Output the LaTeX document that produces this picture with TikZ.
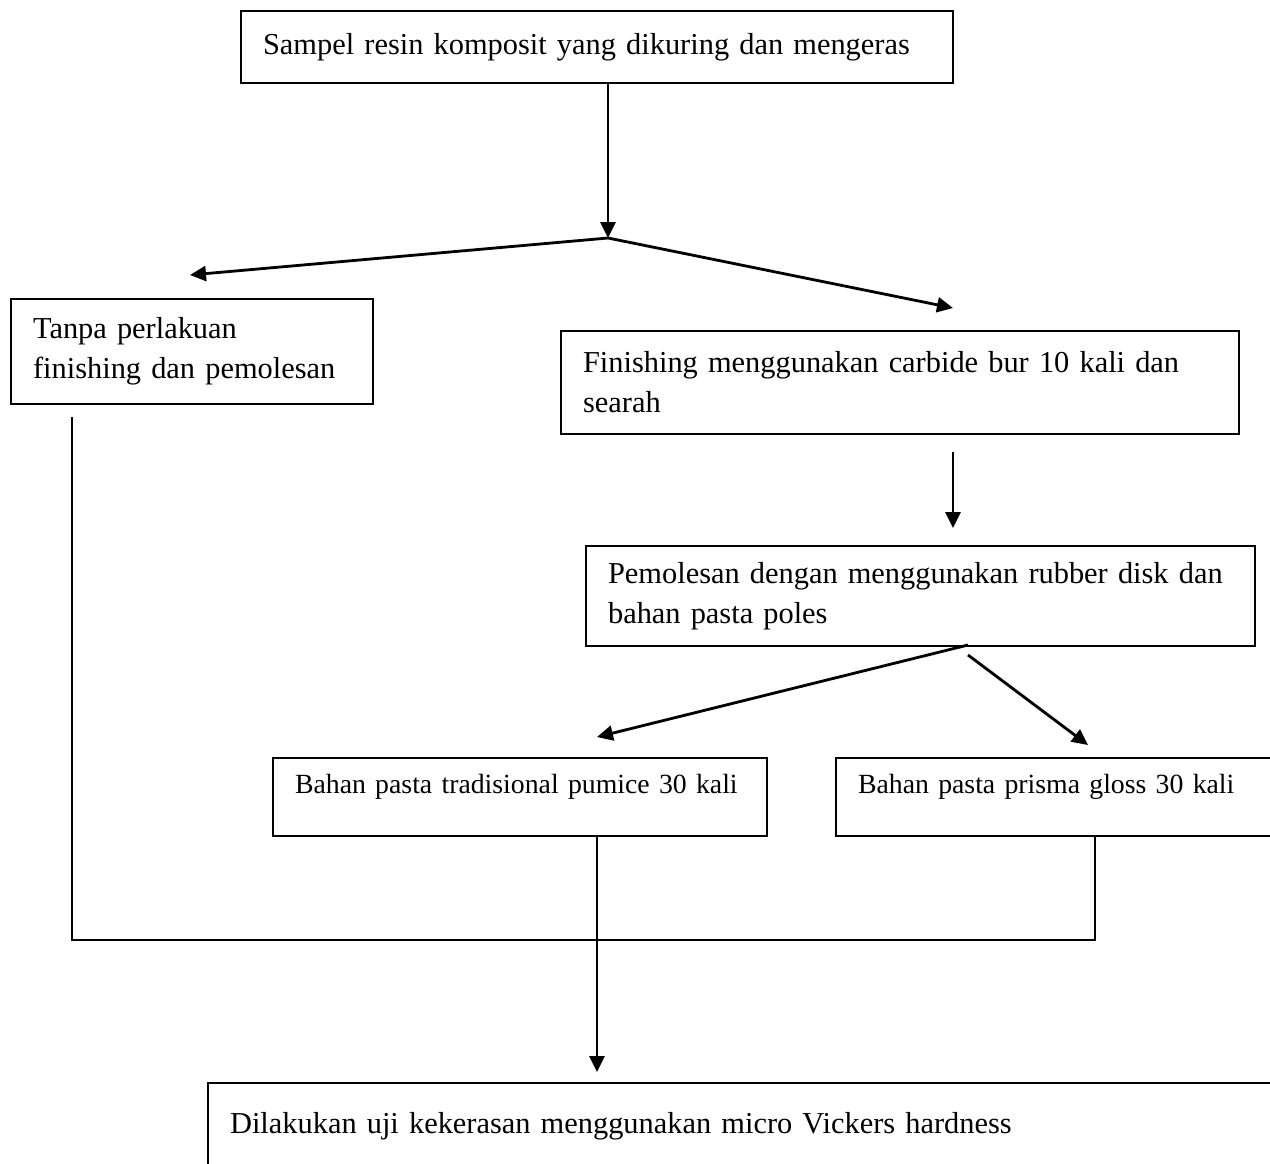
\documentclass[tikz,border=0pt]{standalone}
\usepackage{fontspec}
\setmainfont{Liberation Serif}
\usetikzlibrary{arrows.meta}

\begin{document}
\begin{tikzpicture}[
            x=0.2mm, y=-0.2mm,
            box/.style={draw, line width=1.2pt, anchor=north west, align=left,
                inner xsep=0.44cm, inner ysep=0pt, font=\fontsize{17.3}{22.8}\selectfont},
            smallbox/.style={box, font=\fontsize{15.8}{21}\selectfont, text depth=0.52cm},
            line/.style={draw, line width=1.6pt},
            arr/.style={line, -{Triangle[length=0.32cm, width=0.3cm]}}
        ]
        \useasboundingbox (0,0) rectangle (1270,1163);
        \clip (0,0) rectangle (1270,1163);
        \node[box, text width=13.36cm, minimum height=1.44cm] (samp) at (240,10)
            {\mbox{Sampel resin komposit yang dikuring dan mengeras}};
        \node[box, text width=6.36cm, minimum height=2.1cm] (tanpa) at (10,298)
            {Tanpa perlakuan\\\mbox{finishing dan pemolesan}};
        \node[box, text width=12.68cm, minimum height=2.06cm] (fin) at (560,330)
            {\mbox{Finishing menggunakan carbide bur 10 kali dan}\\searah};
        \node[box, text width=12.5cm, minimum height=2cm] (poles) at (585,545)
            {\mbox{Pemolesan dengan menggunakan rubber disk dan}\\bahan pasta poles};
        \node[smallbox, text width=9cm, minimum height=1.56cm] (pum) at (272,757)
            {\mbox{Bahan pasta tradisional pumice 30 kali}};
        \node[smallbox, text width=9cm, minimum height=1.56cm] (gloss) at (835,757)
            {\mbox{Bahan pasta prisma gloss 30 kali}};
        \node[box, text width=22cm, text height=0.45cm, text depth=3cm, inner ysep=0.55cm] (uji) at (207,1082)
            {\mbox{Dilakukan uji kekerasan menggunakan micro Vickers hardness}};

        \coordinate (split)    at (608,238);
        \coordinate (tanpaTip) at (190,275);
        \coordinate (finTip)   at (953,308);
        \coordinate (polesOut) at (968,645);
        \coordinate (glossOut) at (968,655);
        \coordinate (pumTip)   at (597,737);
        \coordinate (glossTip) at (1088,745);
        \coordinate (joinL)    at (72,940);
        \coordinate (joinR)    at (1095,940);
        \coordinate (join)     at (597,940);

        \draw[arr] (samp.south -| split) -- (split);
        \draw[arr] (split) -- (tanpaTip);
        \draw[arr] (split) -- (finTip);
        \draw[arr, shorten <=0.34cm, shorten >=0.34cm] (fin.south -| finTip) -- (poles.north -| finTip);
        \draw[arr] (polesOut) -- (pumTip);
        \draw[arr] (glossOut) -- (glossTip);
        \draw[line, shorten <=0.24cm] (tanpa.south -| joinL) -- (joinL) -- (joinR) -- (gloss.south -| joinR);
        \draw[arr, shorten >=0.2cm] (pum.south -| join) -- (join) -- (uji.north -| join);
    \end{tikzpicture}
\end{document}
